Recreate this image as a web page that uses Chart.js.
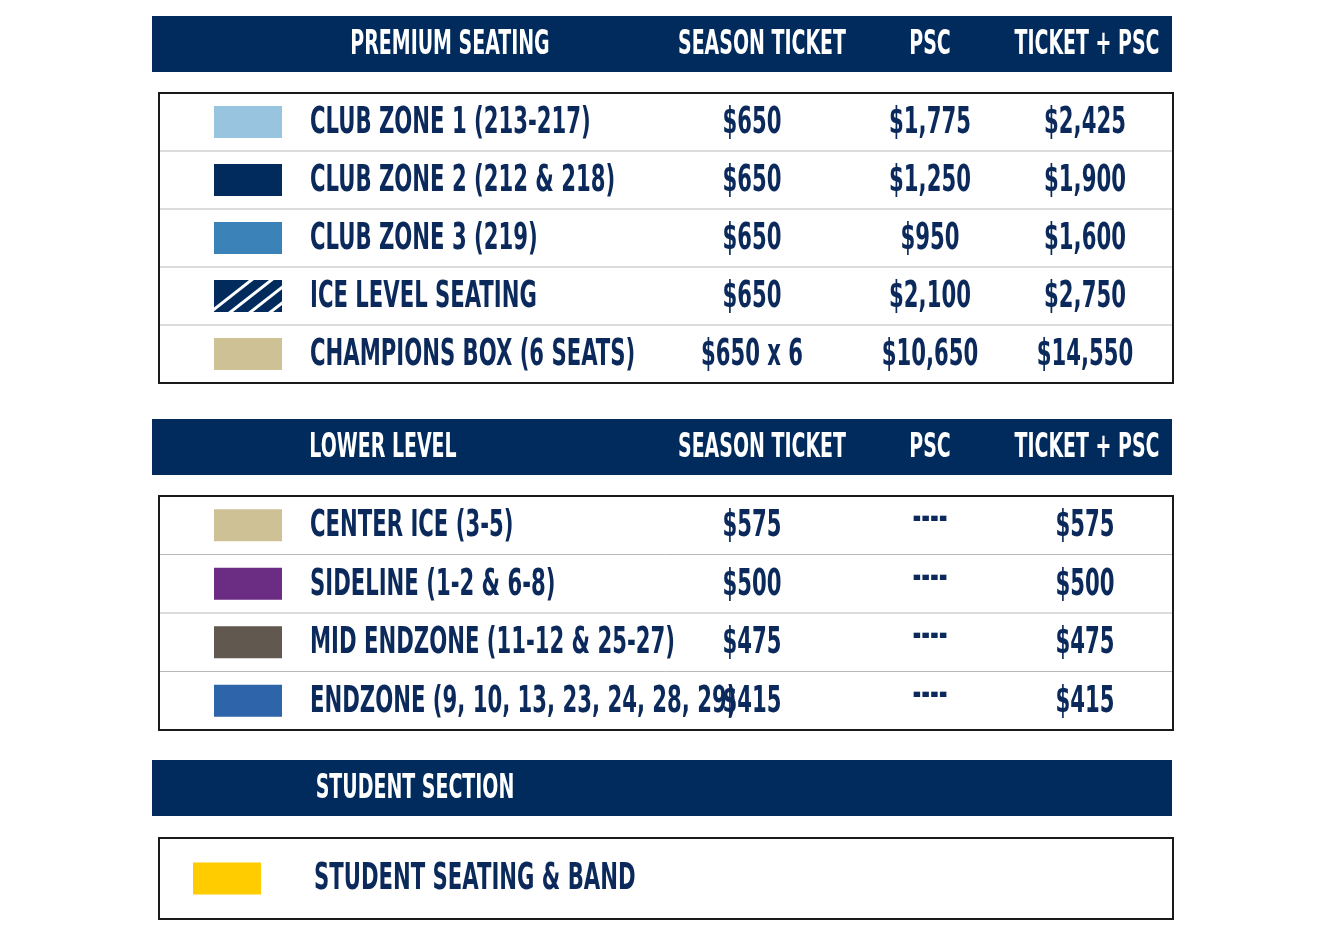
<!DOCTYPE html>
<html>
<head>
<meta charset="utf-8">
<script src="https://cdn.jsdelivr.net/npm/chart.js@4"></script>
<style>
  body { margin: 0; background: #fff; }
  #wrap { width: 1320px; height: 950px; }
</style>
</head>
<body>
<div id="wrap"><canvas id="priceChart" width="1320" height="950"></canvas></div>
<script>
// Table contents
const premiumHeaders = ["PREMIUM SEATING", "SEASON TICKET", "PSC", "TICKET + PSC"];
const premiumSections = ["CLUB ZONE 1 (213-217)", "CLUB ZONE 2 (212 & 218)", "CLUB ZONE 3 (219)", "ICE LEVEL SEATING", "CHAMPIONS BOX (6 SEATS)"];
const premiumTicket = ["$650", "$650", "$650", "$650", "$650 x 6"];
const premiumPsc = ["$1,775", "$1,250", "$950", "$2,100", "$10,650"];
const premiumTotal = ["$2,425", "$1,900", "$1,600", "$2,750", "$14,550"];

const lowerHeaders = ["LOWER LEVEL", "SEASON TICKET", "PSC", "TICKET + PSC"];
const lowerSections = ["CENTER ICE (3-5)", "SIDELINE (1-2 & 6-8)", "MID ENDZONE (11-12 & 25-27)", "ENDZONE (9, 10, 13, 23, 24, 28, 29)"];
const lowerTicket = ["$575", "$500", "$475", "$415"];
const lowerPsc = ["----", "----", "----", "----"];
const lowerTotal = ["$575", "$500", "$475", "$415"];

const studentHeaders = ["STUDENT SECTION"];
const studentSections = ["STUDENT SEATING & BAND"];

// swatch styles
const premiumSwatches = ["#98c4df", "#002b5c", "#3b82b8", "hatch", "#cfc196"];
const lowerSwatches = ["#cfc196", "#6b2c83", "#615850", "#2e64a9"];
const studentSwatches = ["#ffcc00"];

const NAVY = "#002b5c";
const INK = "#0b2a5b";
const FONT = "'Liberation Sans Narrow', 'DejaVu Sans Condensed', sans-serif";

function txt(ctx, s, x, y, align, size, color, sx) {
  ctx.save();
  ctx.font = "bold " + size + "px " + FONT;
  ctx.fillStyle = color;
  ctx.textBaseline = "middle";
  ctx.textAlign = align;
  ctx.translate(x, y);
  ctx.scale(sx, 1);
  ctx.fillText(s, 0, 0);
  ctx.restore();
}

function swatch(ctx, style, x, y, w, h) {
  if (style === "hatch") {
    ctx.save();
    ctx.fillStyle = NAVY;
    ctx.fillRect(x, y, w, h);
    ctx.beginPath();
    ctx.rect(x, y, w, h);
    ctx.clip();
    ctx.strokeStyle = "#fff";
    ctx.lineWidth = 3;
    for (let i = 0; i < 4; i++) {
      const ox = x + 6 + i * 20;
      ctx.beginPath();
      ctx.moveTo(ox - 12, y + h + 2);
      ctx.lineTo(ox + 34, y - 2);
      ctx.stroke();
    }
    ctx.restore();
  } else {
    ctx.fillStyle = style;
    ctx.fillRect(x, y, w, h);
  }
}

const tablePlugin = {
  id: "tablePlugin",
  afterDraw(chart) {
    const ctx = chart.ctx;
    const X = v => chart.scales.x.getPixelForValue(v);
    const Y = v => chart.scales.y.getPixelForValue(v);
    const cols = [0, 762, 930, 1087];
    const valCols = [752, 930, 1085];

    function header(labels, top, firstX) {
      ctx.fillStyle = NAVY;
      ctx.fillRect(X(152), Y(top), X(1172) - X(152), Y(top + 56) - Y(top));
      labels.forEach((l, i) => {
        txt(ctx, l, X(i === 0 ? firstX : cols[i]), Y(top + 29), "center", 34, "#fff", 0.62);
      });
    }

    function block(top, rowH, names, swatches, cells, swX, textX) {
      const n = names.length;
      const bottom = top + rowH * n;
      ctx.strokeStyle = "#b8b8b8";
      ctx.lineWidth = 1;
      for (let i = 1; i < n; i++) {
        ctx.beginPath();
        ctx.moveTo(X(159), Y(top + rowH * i));
        ctx.lineTo(X(1172), Y(top + rowH * i));
        ctx.stroke();
      }
      ctx.strokeStyle = "#1a1a1a";
      ctx.lineWidth = 2;
      ctx.strokeRect(X(159), Y(top), X(1173) - X(159), Y(bottom) - Y(top));
      names.forEach((name, i) => {
        const cy = top + rowH * (i + 0.5);
        swatch(ctx, swatches[i], X(swX), Y(cy - 16), 68, 32);
        txt(ctx, name, X(textX), Y(cy + 1), "left", 38, INK, 0.62);
        cells.forEach((col, j) => {
          const v = col[i];
          txt(ctx, v, X(valCols[j]), Y(cy + (v === "----" ? -6 : 1)), "center", 38, INK, 0.62);
        });
      });
    }

    header(premiumHeaders, 16, 450);
    block(93, 58, premiumSections, premiumSwatches, [premiumTicket, premiumPsc, premiumTotal], 214, 310);
    header(lowerHeaders, 419, 383);
    block(496, 58.5, lowerSections, lowerSwatches, [lowerTicket, lowerPsc, lowerTotal], 214, 310);
    header(studentHeaders, 760, 415);
    block(838, 81, studentSections, studentSwatches, [], 193, 314);
  }
};

new Chart(document.getElementById("priceChart"), {
  type: "scatter",
  data: { datasets: [] },
  options: {
    responsive: false,
    animation: false,
    devicePixelRatio: 1,
    layout: { padding: 0 },
    plugins: { legend: { display: false }, tooltip: { enabled: false } },
    scales: {
      x: { type: "linear", min: 0, max: 1320, display: false },
      y: { type: "linear", min: 0, max: 950, reverse: true, display: false }
    }
  },
  plugins: [tablePlugin]
});
</script>
</body>
</html>
